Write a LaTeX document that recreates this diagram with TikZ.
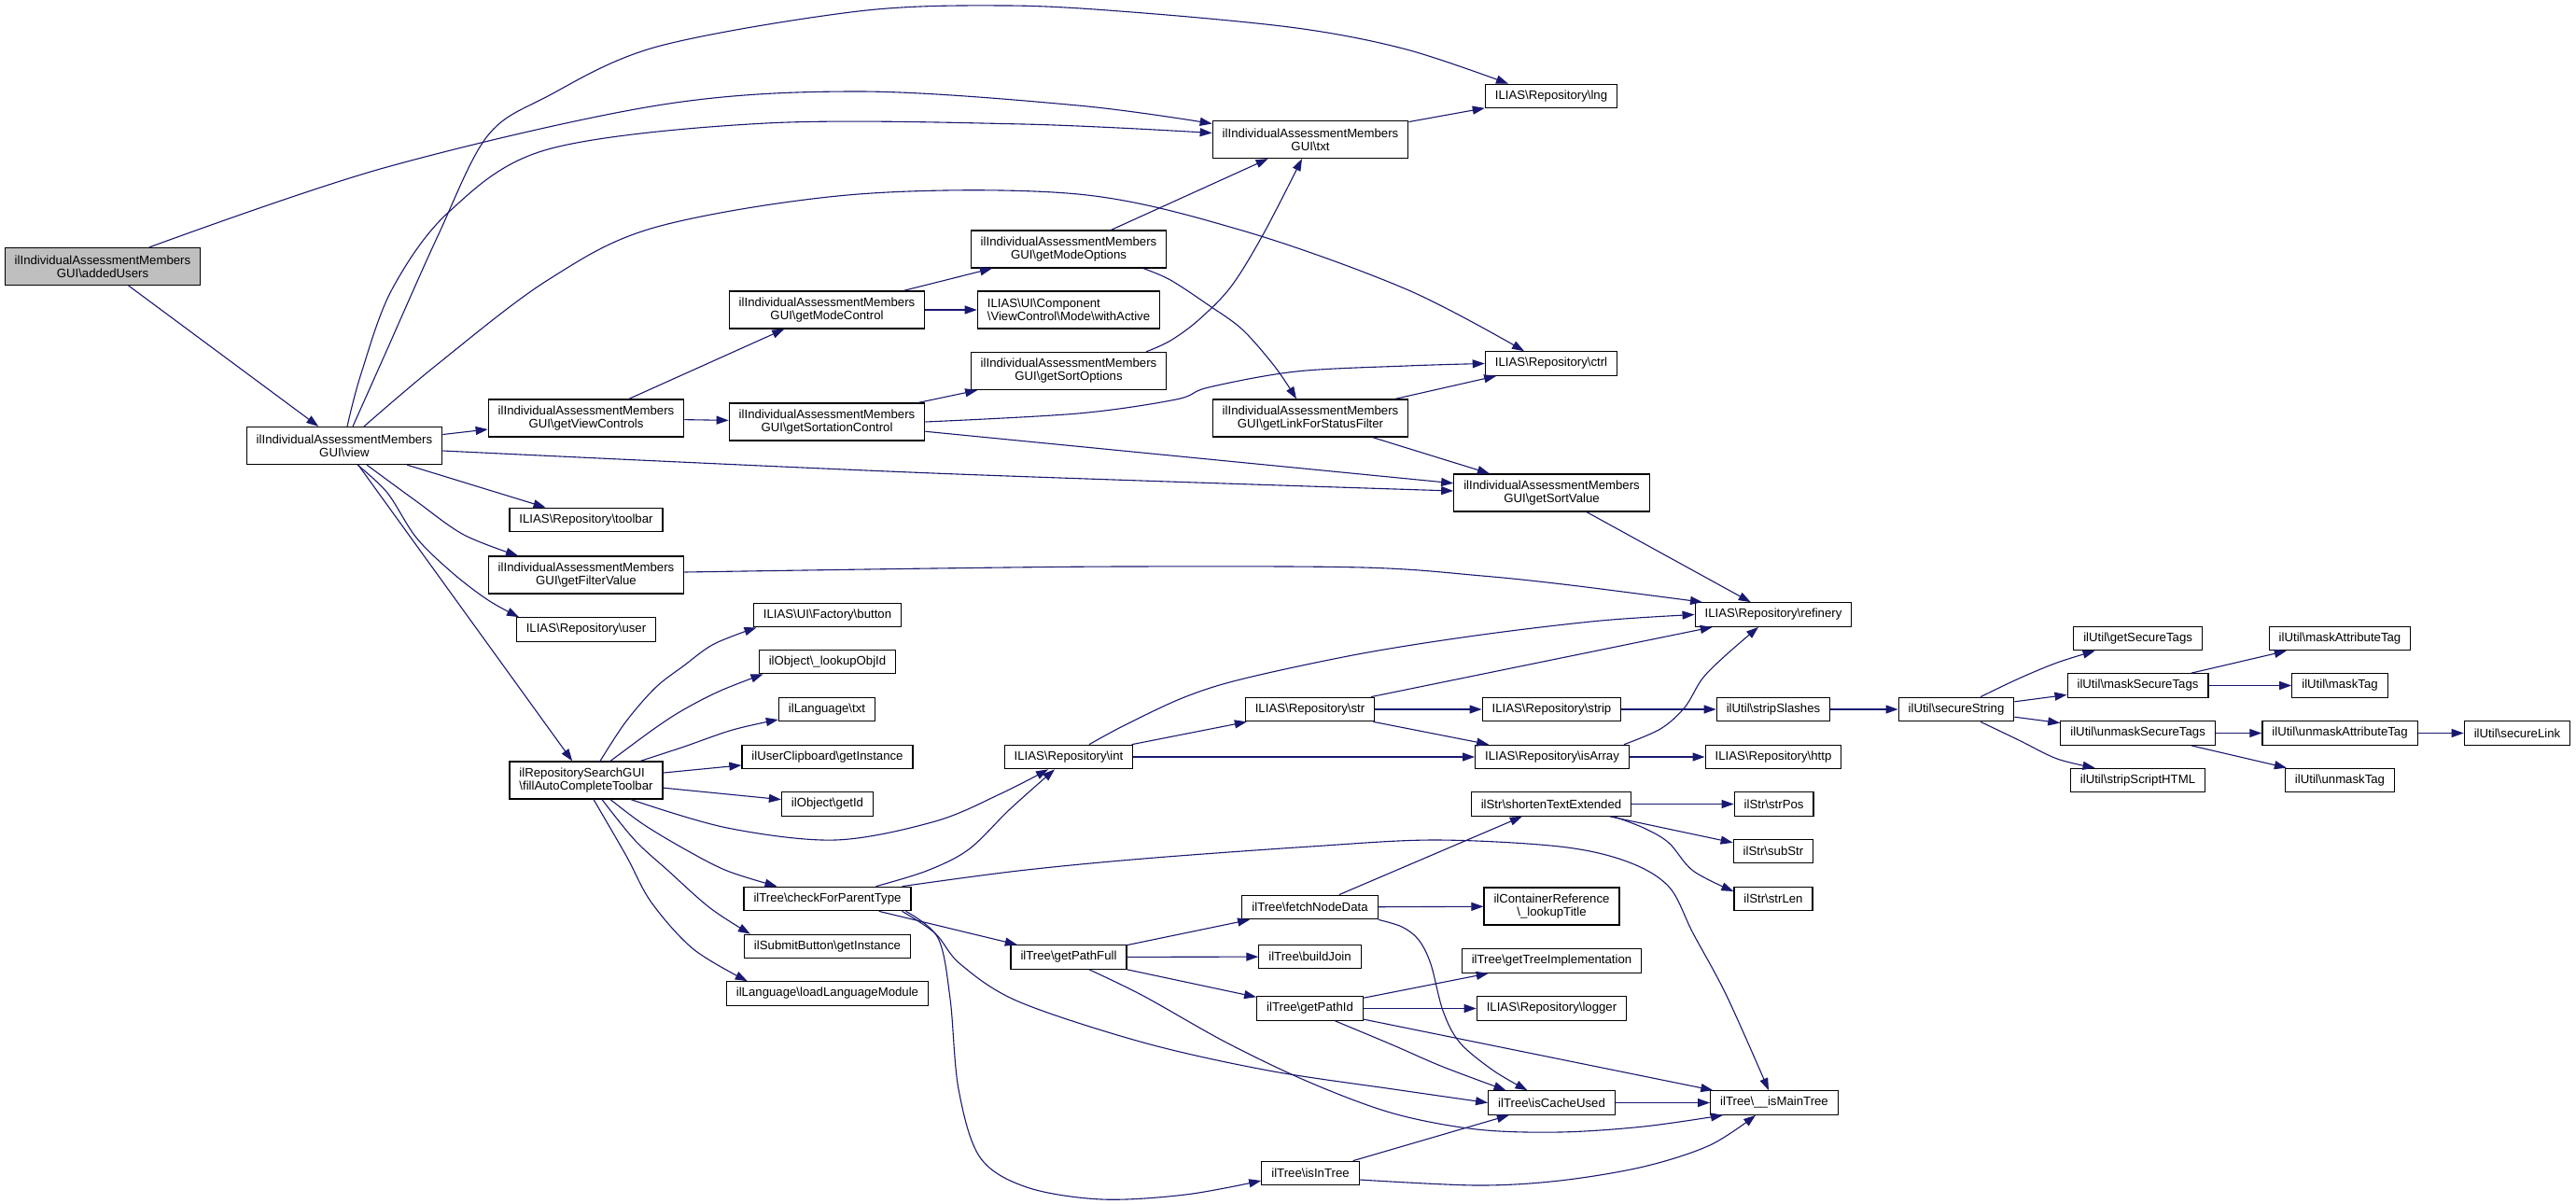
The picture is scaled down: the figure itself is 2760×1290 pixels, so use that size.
\documentclass[tikz,border=0pt]{standalone}
\usepackage{fontspec}
\setmainfont{Liberation Sans}
\usetikzlibrary{arrows.meta}
\newcommand{\bksl}{\textbackslash}
\definecolor{nodegray}{HTML}{BFBFBF}
\definecolor{edgeblue}{HTML}{191970}
\tikzset{
  box/.style={draw=black, fill=white, line width=1.2pt, font=\fontsize{13.2}{14}\selectfont,
    inner xsep=10.5pt, inner ysep=0pt, minimum height=25.5pt},
  box2/.style={box, align=center, minimum height=40pt},
  box2l/.style={box, align=left, minimum height=40pt},
  e/.style={draw=edgeblue, line width=1.1pt, -{Triangle[length=13pt,width=9pt]}},
  sm/.style={smooth, tension=0.55}
}
\begin{document}
\begin{tikzpicture}[x=1pt,y=1pt]
\fill[white] (0,0) rectangle (2760,-1290);
\useasboundingbox (0,0) rectangle (2760,-1290);

% nodes
\node[box2, fill=nodegray] (addedUsers) at (110,-285.5) {ilIndividualAssessmentMembers\\GUI\bksl addedUsers};
\node[box2] (view) at (369,-477.5) {ilIndividualAssessmentMembers\\GUI\bksl view};
\node[box2] (gvc) at (628,-448) {ilIndividualAssessmentMembers\\GUI\bksl getViewControls};
\node[box] (toolbar) at (628,-557) {ILIAS\bksl Repository\bksl toolbar};
\node[box2] (gfv) at (628,-616) {ilIndividualAssessmentMembers\\GUI\bksl getFilterValue};
\node[box] (user) at (628,-674.5) {ILIAS\bksl Repository\bksl user};
\node[box2l] (fac) at (628,-836) {ilRepositorySearchGUI\\\bksl fillAutoCompleteToolbar};
\node[box2] (gmc) at (886,-332) {ilIndividualAssessmentMembers\\GUI\bksl getModeControl};
\node[box2] (gsc) at (886,-452) {ilIndividualAssessmentMembers\\GUI\bksl getSortationControl};
\node[box] (btn) at (886.5,-659) {ILIAS\bksl UI\bksl Factory\bksl button};
\node[box] (loi) at (886.5,-709) {ilObject\bksl\_lookupObjId};
\node[box] (ltx) at (886,-760) {ilLanguage\bksl txt};
\node[box] (ucb) at (886.5,-811) {ilUserClipboard\bksl getInstance};
\node[box] (gid) at (886.5,-861.5) {ilObject\bksl getId};
\node[box] (cfp) at (886.5,-963) {ilTree\bksl checkForParentType};
\node[box] (sbi) at (886.5,-1014) {ilSubmitButton\bksl getInstance};
\node[box] (llm) at (886.5,-1064.5) {ilLanguage\bksl loadLanguageModule};
\node[box2] (gmo) at (1145,-267) {ilIndividualAssessmentMembers\\GUI\bksl getModeOptions};
\node[box2l] (wac) at (1145,-332) {ILIAS\bksl UI\bksl Component\\\bksl ViewControl\bksl Mode\bksl withActive};
\node[box2] (gso) at (1145,-397.5) {ilIndividualAssessmentMembers\\GUI\bksl getSortOptions};
\node[box] (int) at (1145,-811) {ILIAS\bksl Repository\bksl int};
\node[box] (gpf) at (1145,-1025.5) {ilTree\bksl getPathFull};
\node[box2] (txt) at (1404,-149.5) {ilIndividualAssessmentMembers\\GUI\bksl txt};
\node[box2] (glf) at (1404,-448) {ilIndividualAssessmentMembers\\GUI\bksl getLinkForStatusFilter};
\node[box] (str) at (1403.5,-760) {ILIAS\bksl Repository\bksl str};
\node[box] (fnd) at (1403.5,-972) {ilTree\bksl fetchNodeData};
\node[box] (bj) at (1403.5,-1025) {ilTree\bksl buildJoin};
\node[box] (gpi) at (1403.5,-1080.5) {ilTree\bksl getPathId};
\node[box] (iit) at (1404,-1257) {ilTree\bksl isInTree};
\node[box] (lng) at (1662,-103) {ILIAS\bksl Repository\bksl lng};
\node[box] (ctrl) at (1662,-389.5) {ILIAS\bksl Repository\bksl ctrl};
\node[box2] (gsv) at (1662.5,-528) {ilIndividualAssessmentMembers\\GUI\bksl getSortValue};
\node[box] (strip) at (1662.5,-760) {ILIAS\bksl Repository\bksl strip};
\node[box] (isa) at (1663,-811) {ILIAS\bksl Repository\bksl isArray};
\node[box] (ste) at (1662,-861.5) {ilStr\bksl shortenTextExtended};
\node[box2] (clt) at (1662.5,-971) {ilContainerReference\\\bksl\_lookupTitle};
\node[box] (gti) at (1662.5,-1029.5) {ilTree\bksl getTreeImplementation};
\node[box] (log) at (1662.5,-1080.5) {ILIAS\bksl Repository\bksl logger};
\node[box] (icu) at (1662.5,-1181.5) {ilTree\bksl isCacheUsed};
\node[box] (ref) at (1900,-658.5) {ILIAS\bksl Repository\bksl refinery};
\node[box] (ssl) at (1900,-760) {ilUtil\bksl stripSlashes};
\node[box] (http) at (1900,-811) {ILIAS\bksl Repository\bksl http};
\node[box] (spos) at (1900.6,-861.5) {ilStr\bksl strPos};
\node[box] (ssub) at (1900,-912) {ilStr\bksl subStr};
\node[box] (slen) at (1900,-963) {ilStr\bksl strLen};
\node[box] (imt) at (1901,-1181.5) {ilTree\bksl\_\_isMainTree};
\node[box] (sst) at (2096,-760) {ilUtil\bksl secureString};
\node[box] (gst) at (2290.6,-684) {ilUtil\bksl getSecureTags};
\node[box] (mst) at (2290.5,-734.5) {ilUtil\bksl maskSecureTags};
\node[box] (ust) at (2290.6,-785.5) {ilUtil\bksl unmaskSecureTags};
\node[box] (ssh) at (2290.5,-836) {ilUtil\bksl stripScriptHTML};
\node[box] (mat) at (2507,-684) {ilUtil\bksl maskAttributeTag};
\node[box] (mt) at (2507,-734.5) {ilUtil\bksl maskTag};
\node[box] (uat) at (2507,-785.5) {ilUtil\bksl unmaskAttributeTag};
\node[box] (ut) at (2507,-836) {ilUtil\bksl unmaskTag};
\node[box] (sl) at (2697,-785.5) {ilUtil\bksl secureLink};

% edges from addedUsers
\draw[e] (addedUsers) -- (view);
\draw[e] plot[sm] coordinates {([xshift=50pt]addedUsers.north) (411,-180) (704,-113) (920,-98) (1155,-113) ([yshift=17pt]txt.west)};

% edges from view
\draw[e] plot[sm] coordinates {([xshift=3pt]view.north) (387,-400) (420,-310) (481,-227) (587,-160) (821,-132) (1096,-133) ([yshift=7pt]txt.west)};
\draw[e] plot[sm] coordinates {([xshift=9pt]view.north) (411,-383) (469,-253) (522,-146) (587,-103) (704,-50) (920,-12) (1078,-6) (1213,-13) (1389,-30) (1507,-53) ([xshift=-46pt]lng.north)};
\draw[e] plot[sm] coordinates {([xshift=21pt]view.north) (469,-390) (587,-300) (704,-243) (920,-208) (1155,-208) (1331,-247) (1507,-310) ([xshift=-29pt]ctrl.north)};
\draw[e] (view) -- (gvc);
\draw[e] plot[sm] coordinates {([yshift=-5.5pt]view.east) (1000,-507) ([yshift=2pt]gsv.west)};
\draw[e] (view) -- (toolbar);
\draw[e] plot[sm] coordinates {([xshift=24pt]view.south) (446,-537) (497,-573) ([xshift=-73pt]gfv.north)};
\draw[e] plot[sm] coordinates {([xshift=14pt]view.south) (415,-528) (446,-576) (485,-614) (523,-643) ([xshift=-72pt]user.north)};
\draw[e] (view) -- (fac);

% getViewControls and friends
\draw[e] (gvc) -- (gmc);
\draw[e] (gvc) -- (gsc);
\draw[e] (gmc) -- (gmo);
\draw[e] (gmc) -- (wac);
\draw[e] (gmo) -- (txt);
\draw[e] plot[sm] coordinates {([xshift=80pt]gmo.south) (1254,-300) (1295,-327) (1331,-353) (1366,-393) ([xshift=-15pt]glf.north)};
\draw[e] (gsc) -- (gso);
\draw[e] plot[sm] coordinates {(gsc.east) (1155,-443) (1260,-428) (1295,-415) (1389,-398) (1507,-392) (ctrl.west)};
\draw[e] (gsc) -- (gsv);
\draw[e] plot[sm] coordinates {([xshift=83pt]gso.north) (1254,-365) (1284,-343) (1319,-307) (1354,-250) ([xshift=-9pt]txt.south)};
\draw[e] (glf) -- (ctrl);
\draw[e] (glf) -- (gsv);
\draw[e] (txt) -- (lng);
\draw[e] (gsv) -- (ref);
\draw[e] plot[sm] coordinates {([yshift=3pt]gfv.east) (1000,-609) (1205,-607) (1460,-608) (1588,-617) (1683,-627) ([xshift=-76pt]ref.north)};

% fillAutoCompleteToolbar
\draw[e] plot[sm] coordinates {([xshift=15pt]fac.north) (670,-774) (702,-737) (733,-713) (765,-690) ([xshift=-76pt]btn.south)};
\draw[e] plot[sm] coordinates {([xshift=26pt]fac.north) (702,-780) (733,-760) (772,-740) ([xshift=-69pt]loi.south)};
\draw[e] plot[sm] coordinates {([xshift=58pt]fac.north) (733,-800) (785,-782) ([yshift=-11pt]ltx.west)};
\draw[e] (fac) -- (ucb);
\draw[e] (fac) -- (gid);
\draw[e] plot[sm] coordinates {([xshift=48pt]fac.south) (779,-887) (895,-900) (1002,-880) (1073,-850) ([xshift=-22pt]int.south)};
\draw[e] plot[sm] coordinates {([xshift=26pt]fac.south) (689,-883) (734,-910) (779,-933) ([xshift=-54pt]cfp.north)};
\draw[e] plot[sm] coordinates {([xshift=17pt]fac.south) (680,-900) (716,-933) (761,-973) ([xshift=7pt]sbi.north west)};
\draw[e] plot[sm] coordinates {([xshift=8pt]fac.south) (671,-917) (698,-967) (743,-1017) ([xshift=23pt]llm.north west)};

% checkForParentType
\draw[e] plot[sm] coordinates {([xshift=52pt]cfp.north) (993,-933) (1038,-910) (1082,-867) ([xshift=-15pt]int.south)};
\draw[e] plot[sm] coordinates {([xshift=80pt]cfp.north) (1091,-933) (1225,-920) (1404,-907) (1537,-900) (1671,-907) (1743,-923) (1788,-950) (1814,-1000) (1850,-1067) ([xshift=-6pt]imt.north)};
\draw[e] (cfp) -- (gpf);
\draw[e] plot[sm] coordinates {([xshift=80pt]cfp.south) (1002,-1000) (1029,-1033) (1091,-1073) (1225,-1117) (1359,-1147) (1493,-1167) (icu.west)};
\draw[e] plot[sm] coordinates {([xshift=84pt]cfp.south) (1005,-1005) (1018,-1070) (1027,-1167) (1050,-1240) (1100,-1272) (1180,-1285) (1270,-1280) ([yshift=-8pt]iit.west)};

% getPathFull
\draw[e] (gpf) -- (fnd);
\draw[e] (gpf) -- (bj);
\draw[e] (gpf) -- (gpi);
\draw[e] plot[sm] coordinates {([xshift=22pt]gpf.south) (1225,-1067) (1314,-1117) (1404,-1160) (1493,-1193) (1582,-1210) (1671,-1213) (1761,-1207) ([xshift=-55pt]imt.south)};

% fetchNodeData
\draw[e] (fnd) -- (ste);
\draw[e] (fnd) -- (clt);
\draw[e] plot[sm] coordinates {(fnd.south east) (1502,-993) (1520,-1007) (1533,-1033) (1546,-1083) (1564,-1117) (1600,-1147) ([xshift=-26pt]icu.north)};

% getPathId
\draw[e] (gpi) -- (gti);
\draw[e] (gpi) -- (log);
\draw[e] plot[sm] coordinates {([xshift=27pt]gpi.south) (1493,-1120) (1546,-1143) ([xshift=-49pt]icu.north)};
\draw[e] (gpi) -- (imt);
\draw[e] (icu) -- (imt);
\draw[e] (iit) -- (icu);
\draw[e] plot[sm] coordinates {([yshift=-7pt]iit.east) (1582,-1270) (1671,-1265) (1761,-1250) (1832,-1227) ([xshift=-20pt]imt.south)};

% shortenTextExtended
\draw[e] (ste) -- (spos);
\draw[e] (ste) -- (ssub);
\draw[e] plot[sm] coordinates {([xshift=67pt]ste.south) (1761,-887) (1788,-903) (1814,-933) ([yshift=8pt]slen.west)};

% int, str, isArray
\draw[e] (int) -- (str);
\draw[e] (int) -- (isa);
\draw[e] plot[sm] coordinates {([xshift=22pt]int.north) (1205,-777) (1269,-747) (1333,-727) (1460,-700) (1588,-680) (1715,-665) (ref.west)};
\draw[e] (str) -- (strip);
\draw[e] (str) -- (isa);
\draw[e] (str) -- (ref);
\draw[e] plot[sm] coordinates {([xshift=77pt]isa.north) (1779,-781) (1805,-758) (1824,-727) (1849,-702) ([xshift=-16pt]ref.south)};
\draw[e] (isa) -- (http);
\draw[e] (strip) -- (ssl);
\draw[e] (ssl) -- (sst);

% secureString
\draw[e] plot[sm] coordinates {([xshift=26pt]sst.north) (2163,-727) (2204,-710) ([xshift=-46pt]gst.south)};
\draw[e] (sst) -- (mst);
\draw[e] (sst) -- (ust);
\draw[e] plot[sm] coordinates {([xshift=26pt]sst.south) (2163,-793) (2204,-813) ([xshift=-46pt]ssh.north)};
\draw[e] (mst) -- (mat);
\draw[e] (mst) -- (mt);
\draw[e] (ust) -- (uat);
\draw[e] (ust) -- (ut);
\draw[e] (uat) -- (sl);
\end{tikzpicture}
\end{document}
